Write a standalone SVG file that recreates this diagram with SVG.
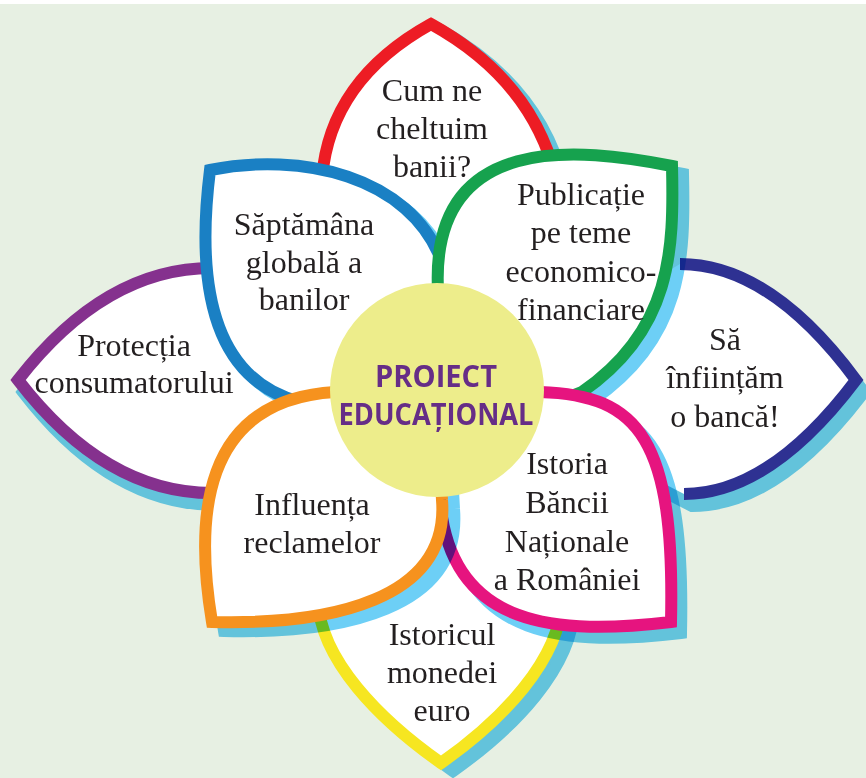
<svg xmlns="http://www.w3.org/2000/svg" width="866" height="778" viewBox="0 0 866 778">
<style>
.sh{stroke-width:12;stroke-linejoin:miter;stroke-miterlimit:20;fill:#6dcff6;stroke:#6dcff6;mix-blend-mode:multiply}
.pf{fill:#fff}
.ps{fill:none;stroke-width:12;stroke-linejoin:miter;stroke-miterlimit:20}
.pd{fill:#fff;stroke-width:12;stroke-linejoin:miter;stroke-miterlimit:20}
.t{font-family:"Liberation Serif","DejaVu Serif",serif;font-size:32px;fill:#231f20;text-anchor:middle}
.c{font-family:"Open Sans","Liberation Sans",sans-serif;font-weight:700;font-size:30px;fill:#662d87;text-anchor:middle}
</style>
<defs>
<path id="redP" d="M322,178 Q330,80 431,24 Q532,80 556,178 L440,300 Z"/>
<path id="navyP" d="M680,264 Q770,264 856,380 Q770,494 684,494 L560,430 L560,335 Z"/>
<path id="yelP" d="M318,600 C320,660 380,720 441,763 C502,720 560,660 562,600 L440,520 Z"/>
<path id="purP" d="M212,268 Q105,268 18,380 Q105,493 212,493 L330,430 L330,330 Z"/>
<path id="bluP" d="M210,170 C300,152 410,175 442,262 C470,340 380,440 300,402 C215,380 195,290 210,170 Z"/>
<path id="grnP" d="M672,166 C674,250 672,330 582,392 C520,420 440,360 438,290 C430,130 580,148 672,166 Z"/>
<path id="pnkP" d="M671,622 C560,635 450,630 440,500 C445,430 490,392 540,392 C640,395 675,440 671,622 Z"/>
<path id="orgP" d="M212,622 C195,520 200,400 335,392 C400,380 440,420 442,500 C450,600 330,625 212,622 Z"/>
</defs>
<rect width="866" height="778" fill="#e7f0e3"/>
<rect width="866" height="4" fill="#ffffff"/>

<g id="node-red">
<use href="#redP" class="sh" transform="translate(8,5)"/>
<use href="#redP" class="pf"/>
<path class="ps" stroke="#ed1c24" d="M322,178 Q330,80 431,24 Q532,80 556,178"/>
<text class="t" x="432" y="101">Cum ne</text>
<text class="t" x="432" y="139">cheltuim</text>
<text class="t" x="432" y="177">banii?</text>
</g>

<g id="node-navy">
<use href="#navyP" class="sh" transform="translate(8,12)"/>
<use href="#navyP" class="pf"/>
<path class="ps" stroke="#2e3192" d="M680,264 Q770,264 856,380 Q770,494 684,494"/>
<text class="t" x="725" y="350">Să</text>
<text class="t" x="725" y="388">înființăm</text>
<text class="t" x="725" y="427">o bancă!</text>
</g>

<g id="node-yellow">
<use href="#yelP" class="sh" transform="translate(12,8)"/>
<use href="#yelP" class="pf"/>
<path class="ps" stroke="#f6e621" d="M318,600 C320,660 380,720 441,763 C502,720 560,660 562,600"/>
<text class="t" x="442" y="645">Istoricul</text>
<text class="t" x="442" y="683">monedei</text>
<text class="t" x="442" y="721">euro</text>
</g>

<g id="node-purple">
<use href="#purP" class="sh" transform="translate(5,12)"/>
<use href="#purP" class="pf"/>
<path class="ps" stroke="#85318e" d="M212,268 Q105,268 18,380 Q105,493 212,493"/>
<text class="t" x="134" y="356">Protecția</text>
<text class="t" x="134" y="393">consumatorului</text>
</g>

<g id="node-blue">
<use href="#bluP" class="sh" transform="translate(6,5)"/>
<use href="#bluP" class="pd" stroke="#1a80c4"/>
<text class="t" x="304" y="235">Săptămâna</text>
<text class="t" x="304" y="273">globală a</text>
<text class="t" x="304" y="310">banilor</text>
</g>

<g id="node-green">
<use href="#grnP" class="sh" transform="translate(11,8)"/>
<use href="#grnP" class="pd" stroke="#16a24e"/>
<text class="t" x="581" y="205">Publicație</text>
<text class="t" x="581" y="243">pe teme</text>
<text class="t" x="581" y="282">economico-</text>
<text class="t" x="581" y="320">financiare</text>
</g>

<g id="node-pink">
<use href="#pnkP" class="sh" transform="translate(10,11)"/>
<use href="#pnkP" class="pd" stroke="#e6147f"/>
<text class="t" x="567" y="474">Istoria</text>
<text class="t" x="567" y="513">Băncii</text>
<text class="t" x="567" y="552">Naționale</text>
<text class="t" x="567" y="590">a României</text>
</g>

<g id="node-orange">
<use href="#orgP" class="sh" transform="translate(12,9)"/>
<use href="#orgP" class="pd" stroke="#f6921e"/>
<text class="t" x="312" y="515">Influența</text>
<text class="t" x="312" y="553">reclamelor</text>
</g>

<g id="node-center">
<circle cx="437" cy="390" r="107" fill="#eded8b"/>
<text class="c" x="436" y="387" textLength="122" lengthAdjust="spacingAndGlyphs">PROIECT</text>
<text class="c" x="436" y="425" textLength="195" lengthAdjust="spacingAndGlyphs">EDUCAȚIONAL</text>
</g>
</svg>
